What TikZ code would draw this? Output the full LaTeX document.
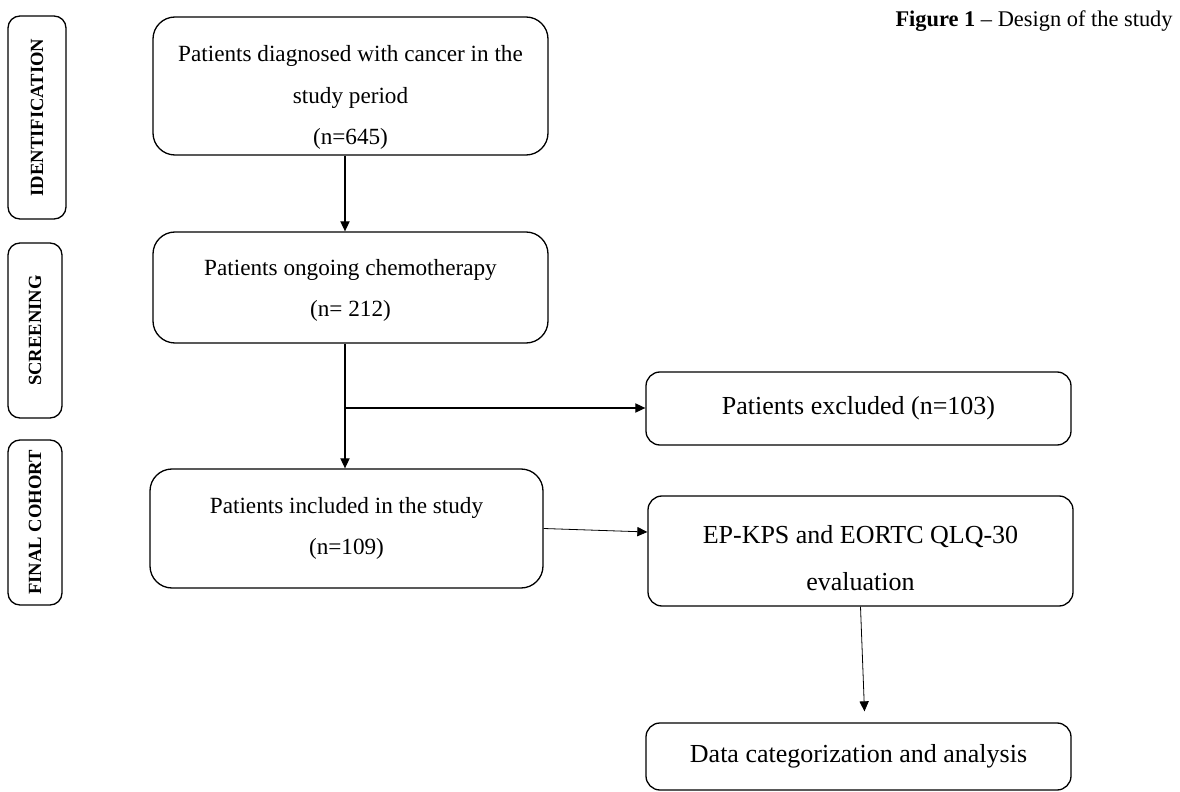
\documentclass[tikz,border=0pt]{standalone}
\usepackage{fontspec}
\setmainfont{Liberation Serif}
\usetikzlibrary{arrows.meta,calc}
\begin{document}
\begin{tikzpicture}[x=0.5pt,y=-0.5pt,
  mainbox/.style={draw, line width=0.65pt, rounded corners=11pt, align=center, inner sep=0pt,
    font=\fontsize{11.6}{20.7}\selectfont},
  rbox/.style={draw, line width=0.65pt, rounded corners=7pt, align=center, inner sep=0pt,
    font=\fontsize{13}{23.5}\selectfont},
  sidebox/.style={draw, line width=0.65pt, rounded corners=6pt, inner sep=0pt, rotate=90,
    font=\fontsize{9.3}{10}\selectfont\bfseries},
  arr/.style={line width=0.6pt, -{Triangle[length=5pt,width=4.6pt]}},
  thinarr/.style={line width=0.4pt, -{Triangle[length=5pt,width=4.6pt]}}
]
\useasboundingbox (0,0) rectangle (1180,792);

% caption
\node[anchor=east, inner sep=0pt, font=\fontsize{11.2}{13}\selectfont] (cap) at (1173,21)
  {\textbf{Figure 1} -- Design of the study};

% side labels
\node[sidebox, minimum width=101.5pt, minimum height=29pt] (id) at (37,117.5) {IDENTIFICATION};
\node[sidebox, minimum width=87.5pt, minimum height=27pt] (scr) at (35,330.5) {SCREENING};
\node[sidebox, minimum width=82.5pt, minimum height=27pt] (fin) at (35,522.5) {FINAL COHORT};

% main boxes
\node[mainbox, minimum width=197.5pt, minimum height=69pt] (A) at (350.5,86)
  {\rule{0pt}{19.5pt}Patients diagnosed with cancer in the\\study period\\(n=645)};
\node[mainbox, minimum width=197.5pt, minimum height=55.5pt] (B) at (350.5,287.5)
  {\rule{0pt}{11pt}Patients ongoing chemotherapy\\(n= 212)};
\node[mainbox, minimum width=196.5pt, minimum height=59.5pt] (C) at (346.5,528.5)
  {Patients included in the study\\(n=109)};

\node[rbox, minimum width=212.5pt, minimum height=36.5pt] (ex) at (858.5,408.5)
  {Patients excluded (n=103)};
\node[rbox, minimum width=212.5pt, minimum height=55pt] (ep) at (860.5,551)
  {\rule{0pt}{16.3pt}EP-KPS and EORTC QLQ-30\\evaluation};
\node[rbox, minimum width=212.5pt, minimum height=33.5pt] (data) at (858.5,756.5)
  {Data categorization and analysis};

% connectors
\coordinate (spine) at (345,0);
\coordinate (br) at (345,408);
\draw[arr] (A.south -| spine) -- (B.north -| spine);
\draw[line width=0.6pt] (B.south -| spine) -- (br);
\draw[arr] (br) -- (C.north -| spine);
\draw[arr] (br) -- (ex.west |- br);
\draw[thinarr] (C.east) -- ($(ep.west)+(0,-19)$);
\draw[thinarr] (ep.south) -- ($(data.north)+(6,-11)$);
\end{tikzpicture}
\end{document}
